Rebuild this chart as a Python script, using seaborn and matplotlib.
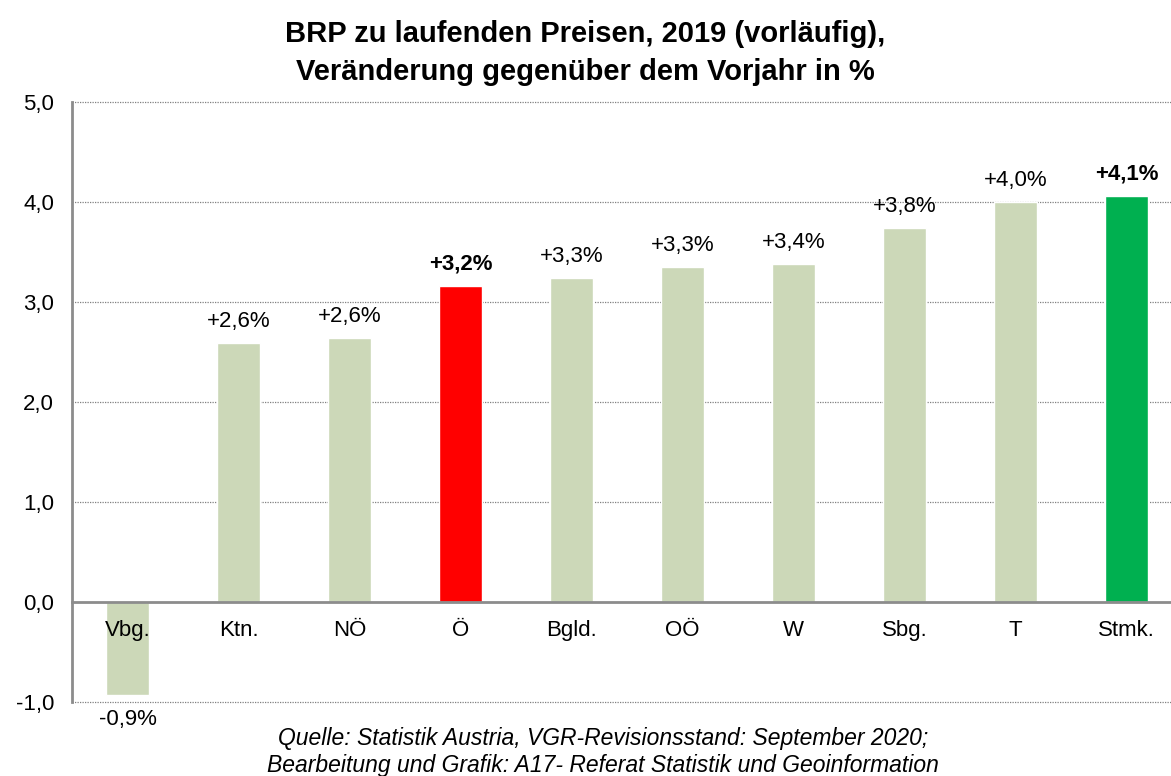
import matplotlib
matplotlib.use("Agg")
import matplotlib.pyplot as plt
import seaborn as sns
import pandas as pd
from matplotlib.ticker import FixedLocator

categories = ["Vbg.", "Ktn.", "NÖ", "Ö", "Bgld.", "OÖ", "W", "Sbg.", "T", "Stmk."]
values = [-0.93, 2.59, 2.64, 3.16, 3.24, 3.35, 3.38, 3.74, 4.00, 4.06]
labels = ["-0,9%", "+2,6%", "+2,6%", "+3,2%", "+3,3%", "+3,3%", "+3,4%", "+3,8%", "+4,0%", "+4,1%"]
bold = [False, False, False, True, False, False, False, False, False, True]
colors = ["#CCD8B8"] * 3 + ["#FF0000"] + ["#CCD8B8"] * 5 + ["#00B050"]
yticks = [-1, 0, 1, 2, 3, 4, 5]
ytick_labels = ["-1,0", "0,0", "1,0", "2,0", "3,0", "4,0", "5,0"]
title = "BRP zu laufenden Preisen, 2019 (vorläufig),\nVeränderung gegenüber dem Vorjahr in %"
footer = ("Quelle: Statistik Austria, VGR-Revisionsstand: September 2020;\n"
          "Bearbeitung und Grafik: A17- Referat Statistik und Geoinformation")

sns.set_style("white")
plt.rcParams['font.family'] = ['Liberation Sans', 'DejaVu Sans']
plt.rcParams['text.color'] = 'black'
plt.rcParams['xtick.color'] = 'black'
plt.rcParams['ytick.color'] = 'black'

df = pd.DataFrame({"cat": categories, "val": values})
fig = plt.figure(figsize=(11.71, 7.76), dpi=100)
ax = fig.add_axes([72/1171, 74/776, 1110/1171, 600/776])

sns.barplot(data=df, x="cat", y="val", hue="cat", palette=colors, order=categories,
            hue_order=categories, legend=False, width=0.39, saturation=1, ax=ax)
ax.set_axisbelow(False)

ax.set_xlim(-0.5, len(categories) - 0.5)
ax.set_ylim(-1, 5)
ax.set_yticks(yticks)
ax.set_yticklabels(ytick_labels, fontsize=16)
ax.set_xlabel("")
ax.set_ylabel("")

for y in yticks:
    if y != 0:
        ax.axhline(y, color="#808080", lw=0.9, ls=(0, (1, 1)), zorder=0, clip_on=False)

for s in ["top", "right"]:
    ax.spines[s].set_visible(False)
ax.spines["left"].set_color("#8C8C8C")
ax.spines["left"].set_linewidth(2)
ax.spines["bottom"].set_position(("data", 0))
ax.spines["bottom"].set_color("#8C8C8C")
ax.spines["bottom"].set_linewidth(2)

ax.tick_params(axis="y", direction="out", length=7, width=2, color="#8C8C8C",
               labelcolor="black", pad=6)
ax.tick_params(axis="x", which="major", length=0, pad=13, labelsize=16, labelcolor="black")
ax.xaxis.set_minor_locator(FixedLocator([i + 0.5 for i in range(len(categories) - 1)]))
ax.tick_params(axis="x", which="minor", direction="out", length=7, width=2, color="#8C8C8C")

for i, (v, lab, b) in enumerate(zip(values, labels, bold)):
    if v >= 0:
        ax.annotate(lab, (i, v), xytext=(0, 8), textcoords="offset points",
                    ha="center", va="bottom", fontsize=16,
                    fontweight="bold" if b else "normal", color="black")
    else:
        ax.annotate(lab, (i, v), xytext=(0, -10), textcoords="offset points",
                    ha="center", va="top", fontsize=16,
                    fontweight="bold" if b else "normal", color="black", annotation_clip=False)

fig.text(585/1171, 1 - 53/776, title, ha="center", va="center", fontsize=21,
         fontweight="bold", linespacing=1.42, color="black")
fig.text(603/1171, 1 - 752/776, footer, ha="center", va="center", fontsize=16.5,
         style="italic", linespacing=1.18, color="black")

fig.savefig("out.png", dpi=100)
